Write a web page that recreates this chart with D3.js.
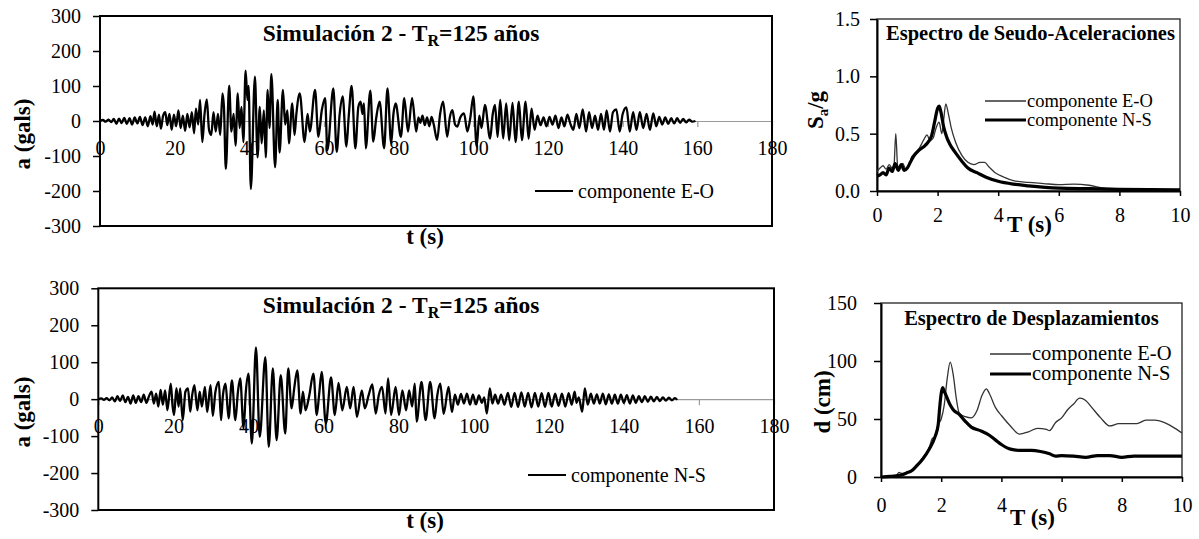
<!DOCTYPE html>
<html><head><meta charset="utf-8">
<script src="https://cdn.jsdelivr.net/npm/d3@7"></script>
<style>
body{margin:0;background:#fff;}
svg text{font-family:"Liberation Serif","Times New Roman",Times,serif !important;}
</style></head><body>
<svg id="c" width="1199" height="539"></svg>
<script>
// ---------- DATA ----------
// Acceleration time history, component E-O (t in s, a in gals)
const tEO = [0,0.8,1.5,2.3,3,3.7,4.4,5.1,5.8,6.5,7.2,7.9,8.6,9.3,10,10.7,11.4,12.1,12.8,13.5,14.1,14.6,15.2,15.8,16.3,16.9,17.5,18,18.6,19.2,19.8,20.4,21,21.6,22.2,22.8,23.4,24,24.6,25.2,25.7,26.3,26.8,27.4,28,28.6,29.2,29.8,30.4,31,31.6,32.2,32.8,33.2,33.7,34.6,35.2,35.8,36.3,36.9,37.4,37.9,38.4,39,39.5,39.8,40.4,41.5,42.2,42.8,43.3,43.9,44.4,44.9,45.4,45.9,46.9,47.6,48.1,49,49.6,50.2,50.6,51.5,52.1,52.6,53.5,54.8,55.6,56.2,57.6,58.5,59.4,60.3,60.9,62.5,63.4,64.2,65,66,66.6,67.4,68.4,69.2,69.8,70.3,70.7,71.2,72.4,73.2,74,74.9,76.1,77,78,78.6,79.2,80.6,81.5,82.5,83.6,84.7,85.3,85.8,86.4,87,87.6,88.2,88.8,89.4,90.3,91.1,91.9,93,93.7,94.4,95.1,95.7,96.5,97.5,98.4,99.2,100,100.9,101.6,102.2,103.1,104.5,105.2,105.8,106.5,107.2,108,108.8,109.6,110.5,111.3,112.2,113,114,114.8,115.6,116.4,117.2,118,118.8,119.6,120.4,121.2,122,122.8,123.6,124.4,125.2,126,126.8,127.6,128.4,129.3,130.2,131,131.8,132.6,133.4,134.2,135,135.7,136.6,137.4,138.3,139.2,140,141,141.9,142.8,143.7,144.6,145.5,146.4,147.3,148.2,149,149.8,150.6,151.4,152.2,153,153.8,154.6,155.4,156.2,157,157.8,158.6,159.5];
const aEO = [0,3,-2,4,-3,6,-8,7,-6,9,-8,8,-10,10,-7,12,-12,10,-15,14,-10,27,-15,18,-22,15,25,-12,20,-25,18,-15,30,-20,15,-28,20,-18,25,-35,35,-10,60,-60,20,62,-25,-40,25,-30,20,-40,79,40,-137,101,-30,20,-70,79,-20,40,-60,144,60,100,-194,127,-104,40,-64,30,-104,89,-20,134,-132,60,-90,89,-10,30,-64,50,-40,20,79,-60,20,-30,89,-45,30,65,-83,93,-88,20,70,-73,10,100,-78,40,55,20,50,-78,87,-59,10,55,-78,93,-64,20,50,-45,65,-30,65,-30,10,-5,15,-12,10,-15,12,-10,-54,20,55,-45,10,31,-10,-16,10,22,-30,10,70,-73,15,-20,46,-50,20,46,-45,60,-50,50,-55,52,-60,55,-55,55,-50,35,-25,15,-12,10,-15,12,-10,15,-20,10,-15,18,-8,-25,20,-20,33,-30,25,-20,15,-25,20,-25,30,-30,25,33,-30,20,39,-30,25,-25,25,-20,20,-25,22,-15,12,-10,10,-8,8,-7,8,-5,6,-4,4,-2,0];

// Acceleration time history, component N-S
const tNS = [0,0.8,1.5,2.2,3,3.7,4.4,5.1,5.8,6.5,7.2,7.9,8.6,9.3,10,10.7,11.4,12.1,12.8,13.5,14.2,14.8,15.4,16,16.6,17.2,17.8,18.4,19.3,19.8,20.2,20.8,21.4,21.8,22.5,23.2,23.9,24.5,25,25.6,26.4,27,27.6,28.4,29,29.9,30.5,31.2,32.1,32.7,33.2,33.9,34.7,35.6,36.5,37.2,37.8,38.7,39.3,40,40.9,42,43,44.5,45.4,46.5,47.5,48.6,49.8,50.6,51.5,52.2,53,53.9,54.5,55.2,56.2,57.3,58.2,58.8,59.5,60.6,62,63,64,65,66.2,67.1,68,68.9,70.2,71,72,73,73.9,74.7,75.6,76.5,77.2,78,79.2,80.1,81,82,82.8,83.6,84.3,84.8,86.1,87.2,88.4,89.6,90.3,91.1,92,93.3,94.2,95,95.8,96.6,97.4,98.2,99,99.8,100.6,101.4,102.2,102.8,103.5,104.3,105,105.7,106.5,107.3,108.2,109.1,110,110.9,111.8,112.7,113.6,114.5,115.4,116.3,117.2,118.1,119,119.9,120.8,121.7,122.6,123.5,124.4,125.3,126.1,126.9,127.4,128,128.9,129.6,130.4,131.2,132,132.8,133.6,134.4,135.2,136,136.8,137.6,138.4,139.2,140,140.8,141.6,142.4,143.2,144,144.8,145.6,146.4,147.2,148,148.8,149.6,150.4,151.2,152,152.8,153.6,154.2];
const aNS = [0,2,-2,3,-3,5,-6,8,-5,10,-8,6,-12,10,-10,8,-8,12,-10,8,20,-12,15,-20,25,-15,24,-30,42,-20,-43,30,-20,29,-57,20,29,-34,10,38,-30,20,-20,33,-35,38,-45,20,47,-57,10,42,-52,51,-57,20,56,-79,20,69,-120,140,-102,114,-129,83,-111,65,-93,83,-25,30,78,-39,20,-30,10,69,-43,10,74,-66,59,-43,44,-30,33,-25,33,-48,24,-25,10,40,-39,10,33,-39,56,-43,33,-43,24,-30,24,-20,42,-61,47,-57,47,-52,10,42,-40,33,-35,12,-15,14,-12,15,-15,12,-14,10,-10,5,-39,29,-12,12,-12,12,-15,17,-21,17,-21,18,-20,17,-22,17,-20,16,-21,17,-20,15,-18,15,-20,16,-15,20,-10,5,-34,29,-15,15,-12,13,-12,15,-14,13,-12,12,-12,12,-10,11,-12,10,-10,8,-8,8,-7,7,-6,6,-5,5,-4,4,-3,3,-2,1,0];

const timeTicks = [0,20,40,60,80,100,120,140,160,180];
const accTicks = [-300,-200,-100,0,100,200,300];

// Pseudo-acceleration spectra (T in s, Sa/g)
const saT_EO = [0,0.1,0.2,0.3,0.4,0.5,0.56,0.62,0.68,0.75,0.85,0.95,1.05,1.15,1.3,1.45,1.55,1.65,1.75,1.85,1.95,2.05,2.14,2.2,2.27,2.35,2.45,2.6,2.8,3.0,3.2,3.4,3.55,3.7,3.9,4.2,4.5,5.0,5.5,6.0,6.5,7.0,7.5,8.0,9.0,10];
const saEO   = [0.17,0.2,0.22,0.19,0.23,0.2,0.22,0.5,0.22,0.2,0.24,0.19,0.22,0.3,0.33,0.4,0.45,0.49,0.44,0.46,0.55,0.6,0.5,0.62,0.76,0.68,0.55,0.42,0.31,0.25,0.23,0.25,0.25,0.21,0.16,0.12,0.09,0.075,0.065,0.055,0.06,0.05,0.025,0.02,0.015,0.01];
const saT_NS = [0,0.1,0.2,0.3,0.4,0.5,0.6,0.7,0.8,0.9,1.0,1.1,1.2,1.4,1.6,1.8,1.9,2.0,2.05,2.1,2.2,2.3,2.4,2.6,2.8,3.0,3.3,3.6,4.0,4.5,5.0,6.0,7.0,8.0,9.0,10];
const saNS   = [0.13,0.14,0.16,0.14,0.2,0.17,0.24,0.18,0.23,0.18,0.2,0.25,0.3,0.36,0.4,0.48,0.6,0.72,0.74,0.7,0.56,0.47,0.41,0.33,0.26,0.2,0.16,0.12,0.085,0.06,0.045,0.025,0.02,0.015,0.012,0.01];
const saTicksY = [0.0,0.5,1.0,1.5];

// Displacement spectra (T in s, d in cm)
const dT_EO = [0,0.3,0.5,0.6,0.7,0.85,1.0,1.2,1.4,1.6,1.7,1.8,1.9,2.0,2.1,2.2,2.3,2.4,2.5,2.6,2.8,3.0,3.2,3.35,3.5,3.6,3.8,4.0,4.3,4.6,4.9,5.2,5.5,5.6,5.8,6.0,6.2,6.4,6.6,6.8,7.0,7.3,7.6,7.9,8.2,8.5,8.8,9.1,9.4,9.7,10];
const dEO   = [0,0.5,1,4,3,4,5,10,17,25,33,35,45,50,62,85,99,88,68,55,52,51,58,70,76,72,60,53,44,37,39,42,41,40,47,51,58,63,68,66,60,51,44,46,46,46,49,49,47,43,38];
const dT_NS = [0,0.3,0.5,0.7,0.9,1.0,1.2,1.4,1.6,1.8,1.9,1.95,2.0,2.05,2.1,2.2,2.3,2.4,2.6,2.8,3.0,3.3,3.6,3.8,4.0,4.3,4.6,5.0,5.3,5.6,5.8,6.0,6.4,6.8,7.2,7.6,8.0,8.4,9.0,10];
const dNS   = [0,0.5,1,2,4,5,10,16,24,35,45,60,72,77,74,68,62,58,54,48,43,40,36,32,28,24,23,23,22,20,18,18.5,18,17,18.5,18.5,17,18,18,18];
const dTicksY = [0,50,100,150];
const periodTicks = [0,2,4,6,8,10];

// ---------- DRAW ----------
const svg = d3.select('#c');

function styleAxis(g, size) {
  g.attr('font-family', null).attr('font-size', size);
  g.selectAll('text').attr('fill', '#000');
}
function txt(sel, size, bold) {
  return sel.attr('font-size', size).attr('font-weight', bold ? 'bold' : 'normal').attr('fill', '#000');
}

function timePanel(box, t, a, legendText, legendY, legendX) {
  const x = d3.scaleLinear([0, 180], [box.l, box.r]);
  const y = d3.scaleLinear([-300, 300], [box.b, box.t]);
  const ya = svg.append('g').attr('transform', `translate(${box.l},0)`)
    .call(d3.axisLeft(y).tickValues(accTicks).tickSize(7).tickSizeOuter(0).tickPadding(12).tickFormat(d => String(d)));
  styleAxis(ya, 20);
  ya.selectAll('.tick line').attr('stroke', '#000').attr('stroke-width', 1.5);
  ya.select('.domain').attr('stroke', 'none');
  const xa = svg.append('g').attr('transform', `translate(0,${y(0)})`)
    .call(d3.axisBottom(x).tickValues(timeTicks).tickSize(6).tickSizeOuter(0).tickFormat(d => String(d)));
  styleAxis(xa, 20);
  xa.select('.domain').attr('stroke', '#9a9a9a').attr('stroke-width', 1.2);
  xa.selectAll('.tick line').attr('stroke', '#9a9a9a').attr('stroke-width', 1.2);
  xa.selectAll('text').attr('y', 20);
  const pts = t.map((d, i) => [d, a[i]]);
  svg.append('path').datum(pts)
    .attr('fill', 'none').attr('stroke', '#000').attr('stroke-width', 2.3).attr('stroke-linejoin', 'round')
    .attr('d', d3.line().x(d => x(d[0])).y(d => y(d[1])).curve(d3.curveMonotoneX));
  svg.append('rect').attr('x', box.l).attr('y', box.t).attr('width', box.r - box.l).attr('height', box.b - box.t)
    .attr('fill', 'none').attr('stroke', '#000').attr('stroke-width', 2);
  svg.append('line').attr('x1', legendX).attr('x2', legendX + 38).attr('y1', legendY).attr('y2', legendY)
    .attr('stroke', '#000').attr('stroke-width', 2);
  txt(svg.append('text'), 20, false).attr('x', legendX + 43).attr('y', legendY + 7).text(legendText);
  const ti = txt(svg.append('text'), 23.5, true).attr('x', (box.l + box.r) / 2 - 35).attr('y', box.t + 25)
    .attr('text-anchor', 'middle');
  ti.append('tspan').text('Simulación 2 - T');
  ti.append('tspan').attr('font-size', 16).attr('dy', 5).text('R');
  ti.append('tspan').attr('dy', -5).text('=125 años');
  txt(svg.append('text'), 23, true).attr('transform', `translate(30,${(box.t + box.b) / 2 + 13}) rotate(-90)`)
    .attr('text-anchor', 'middle').text('a (gals)');
  txt(svg.append('text'), 23, true).attr('x', 425).attr('y', box.b + 18)
    .attr('text-anchor', 'middle').text('t (s)');
}

timePanel({l: 100, r: 772, t: 16, b: 226}, tEO, aEO, 'componente E-O', 191, 535);
timePanel({l: 98.3, r: 774, t: 288.3, b: 510}, tNS, aNS, 'componente N-S', 475, 528);

function specPanel(box, yMax, yTicks, fmt, series, title, yLabelFn, yLabelPos, xLabelY, xLabPad, yLabPad, leg) {
  const x = d3.scaleLinear([0, 10], [box.l, box.r]);
  const y = d3.scaleLinear([0, yMax], [box.b, box.t]);
  svg.append('rect').attr('x', box.l).attr('y', box.t).attr('width', box.r - box.l).attr('height', box.b - box.t)
    .attr('fill', 'none').attr('stroke', '#222').attr('stroke-width', 1.3);
  const ya = svg.append('g').attr('transform', `translate(${box.l},0)`)
    .call(d3.axisLeft(y).tickValues(yTicks).tickSize(7).tickSizeOuter(0).tickPadding(yLabPad).tickFormat(fmt));
  styleAxis(ya, 20);
  ya.select('.domain').attr('stroke', '#000').attr('stroke-width', 2);
  ya.selectAll('.tick line').attr('stroke', '#000').attr('stroke-width', 1.5);
  const xa = svg.append('g').attr('transform', `translate(0,${box.b})`)
    .call(d3.axisBottom(x).tickValues(periodTicks).tickSize(5).tickSizeOuter(0).tickFormat(d => String(d)));
  styleAxis(xa, 20);
  xa.select('.domain').attr('stroke', '#000').attr('stroke-width', 2);
  xa.selectAll('.tick line').attr('stroke', '#000').attr('stroke-width', 1.5);
  xa.selectAll('text').attr('y', xLabPad);
  series.forEach(s => {
    const pts = s.t.map((d, i) => [d, s.v[i]]);
    svg.append('path').datum(pts).attr('fill', 'none').attr('stroke', s.color).attr('stroke-width', s.w)
      .attr('stroke-linejoin', 'round')
      .attr('d', d3.line().x(d => x(d[0])).y(d => y(d[1])).curve(d3.curveMonotoneX));
  });
  txt(svg.append('text'), 20.5, true).attr('x', (box.l + box.r) / 2 + (title.dx || 0)).attr('y', title.y)
    .attr('text-anchor', 'middle').text(title.text);
  series.forEach((s, i) => {
    const ly = leg.y + i * leg.gap;
    svg.append('line').attr('x1', leg.x).attr('x2', leg.x + 41).attr('y1', ly).attr('y2', ly)
      .attr('stroke', s.color).attr('stroke-width', s.w);
    txt(svg.append('text'), leg.fs, false).attr('x', leg.x + 42).attr('y', ly + 6).text(s.name);
  });
  const yl = txt(svg.append('text'), 23, true).attr('transform', `translate(${yLabelPos[0]},${yLabelPos[1]}) rotate(-90)`)
    .attr('text-anchor', 'middle');
  yLabelFn(yl);
  txt(svg.append('text'), 23, true).attr('x', (box.l + box.r) / 2 + 1).attr('y', xLabelY)
    .attr('text-anchor', 'middle').text('T (s)');
}

specPanel({l: 877, r: 1180, t: 19, b: 191}, 1.5, saTicksY, d3.format('.1f'),
  [{t: saT_EO, v: saEO, color: '#333', w: 1.3, name: 'componente E-O'},
   {t: saT_NS, v: saNS, color: '#000', w: 3.2, name: 'componente N-S'}],
  {text: 'Espectro de Seudo-Aceleraciones', y: 40, dx: 2},
  yl => { yl.append('tspan').text('S'); yl.append('tspan').attr('font-size', 15).attr('dy', 5).text('a');
          yl.append('tspan').attr('dy', -5).text('/g'); },
  [823, 110], 232, 17, 10, {x: 985, y: 101, gap: 19, fs: 18.5});

specPanel({l: 881, r: 1182, t: 303, b: 477}, 150, dTicksY, d => String(d),
  [{t: dT_EO, v: dEO, color: '#333', w: 1.3, name: 'componente E-O'},
   {t: dT_NS, v: dNS, color: '#000', w: 3.2, name: 'componente N-S'}],
  {text: 'Espectro de Desplazamientos', y: 325, dx: 0},
  yl => { yl.text('d (cm)'); },
  [830, 402], 525, 21, 17, {x: 990, y: 354, gap: 20, fs: 20.5});
</script>
</body></html>
